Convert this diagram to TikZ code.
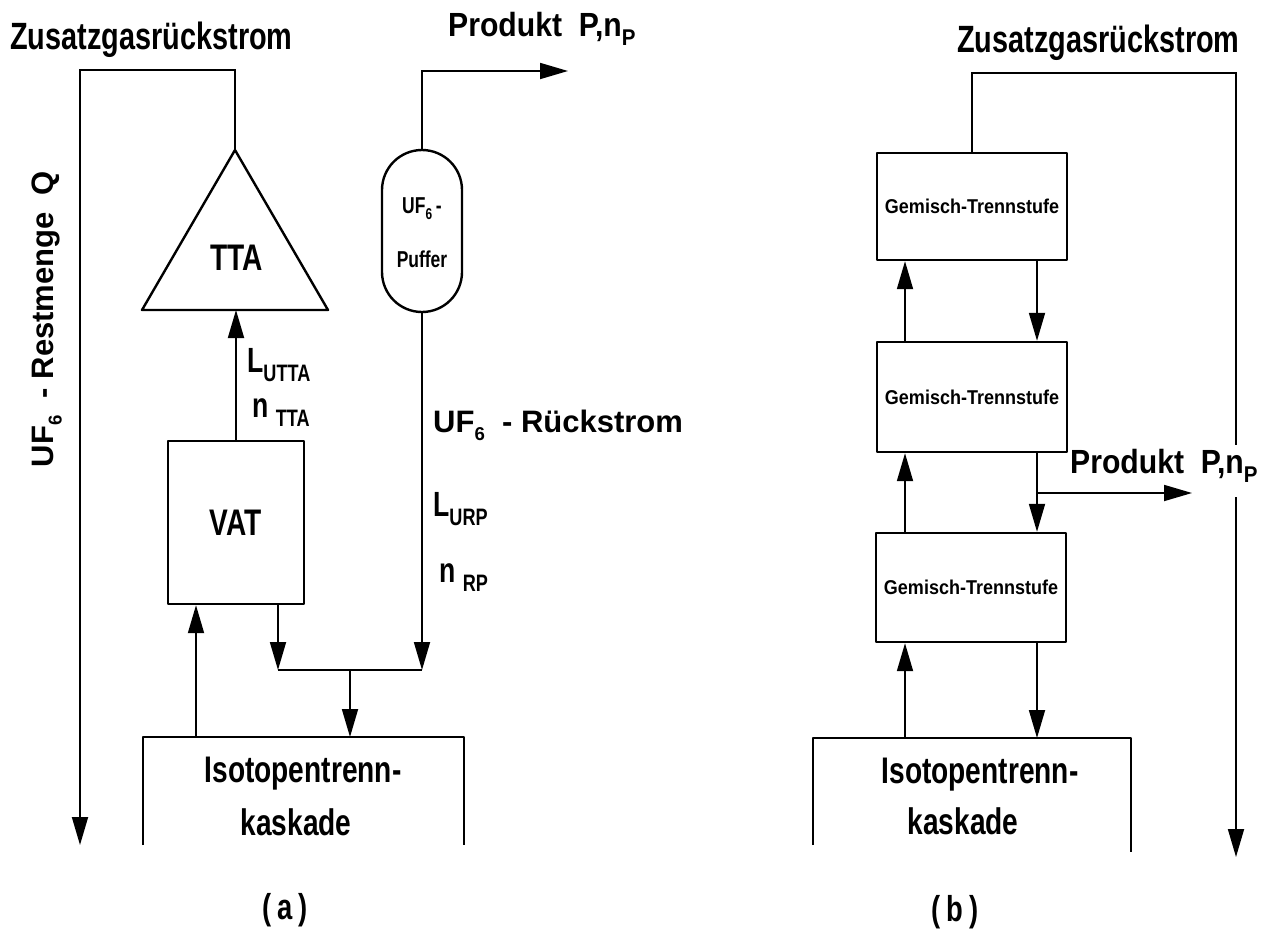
\documentclass[tikz,border=0pt]{standalone}
\usepackage{fontspec}
\setmainfont{Liberation Sans}
\newfontfamily\cfa{Liberation Sans}[FakeStretch=0.76]
\newfontfamily\cfb{Liberation Sans}[FakeStretch=0.9]
\newfontfamily\nfn{Liberation Sans}
\usetikzlibrary{arrows.meta}
\makeatletter
\newcommand{\mysub}[2][0.68]{\raisebox{-0.28em}{\fontsize{\fpeval{#1*\f@size}}{0}\selectfont #2}}
\makeatother
\newcommand{\fz}[1]{\fontsize{#1}{#1}\selectfont\bfseries}
\begin{document}
\begin{tikzpicture}[x=1pt,y=-1pt,
  conn/.style={line width=1.8pt,line join=miter},
  arr/.style={line width=1.8pt,-{Triangle[length=28pt,width=16pt]}},
  box/.style={draw,line width=2.4pt,inner sep=0pt,line join=round},
  tw/.style={inner sep=0pt,anchor=base west},
  tb/.style={inner sep=0pt,anchor=base},
]
\useasboundingbox (0,0) rectangle (1262,932);

%%%%%%%%%%%% (a) %%%%%%%%%%%%
\node[tw,font=\cfa\fz{38}] (headA) at (10,49) {Zusatzgasrückstrom};
\node[tw,font=\cfb\fz{33.5}] (prodA) at (448,36) {Produkt\ \ P,n\mysub{P}};

% triangle TTA
\coordinate (ttaTop) at (235,150);
\coordinate (ttaL) at (142,310);
\coordinate (ttaR) at (328,310);
\draw[box] (ttaTop) -- (ttaL) -- (ttaR) -- cycle;
\node[tb,font=\cfa\fz{37}] (tta) at (237,270) {TTA};

% VAT
\node[box,minimum width=136pt,minimum height=163pt,font=\cfa\fz{37}] (vat) at (236,522.5) {VAT};

% buffer
\node[box,rounded corners=40pt,minimum width=80pt,minimum height=162pt] (puf) at (422,231) {};
\node[tb,font=\cfa\fz{23}] (pufA) at (422,213) {UF\mysub{6}\,-};
\node[tb,font=\cfa\fz{23}] (pufB) at (422,267) {Puffer};

% cascade box (open at the bottom)
\coordinate (kA1) at (143,845);
\coordinate (kA2) at (143,737);
\coordinate (kA3) at (464,737);
\coordinate (kA4) at (464,845);
\draw[box] (kA1) -- (kA2) -- (kA3) -- (kA4);
\node[tb,font=\cfa\fz{37}] (isoA1) at (303,782) {Isotopentrenn-};
\node[tb,font=\cfa\fz{37}] (isoA2) at (296,835) {kaskade};
\node[inner sep=0pt,font=\cfa\fz{36}] (capA) at (285,910) {(\,a\,)};

% connectors (a)
\coordinate (qTop) at (80,70);
\coordinate (qEnd) at (80,845);
\draw[arr] (ttaTop) |- (qTop) -- (qEnd);
\draw[arr] (vat.north) -- (vat.north |- ttaL);
\coordinate (vatIn) at ([xshift=-40pt]vat.south);
\coordinate (vatOut) at ([xshift=42pt]vat.south);
\draw[arr] (vatIn |- kA2) -- (vatIn);
\coordinate (jR) at (423,670);
\coordinate (jM) at (350,670);
\coordinate (jL) at (vatOut |- jR);
\draw[arr] (vatOut) -- (jL);
\draw[arr] (puf.south) -- (puf.south |- jR);
\draw[conn] (jL) -- (puf.south |- jR);
\draw[arr] (jM) -- (jM |- kA2);
\coordinate (pA) at (568,71);
\draw[arr] (puf.north) |- (pA);

% labels (a)
\node[rotate=90,tb,font=\nfn\fz{31}] (rest) at (53,319) {UF\mysub[0.6]{6}\ \ -\ Restmenge\ \ Q};
\node[tw,font=\cfa\fz{35}] (lutta) at (247,372) {L\mysub{UTTA}};
\node[tw,font=\cfa\fz{35}] (ntta) at (252,417) {n \mysub{TTA}};
\node[tw,font=\nfn\fz{31}] (ufr) at (433,432) {UF\mysub[0.6]{6}\ \ -\ Rückstrom};
\node[tw,font=\cfa\fz{35}] (lurp) at (433,516) {L\mysub{URP}};
\node[tw,font=\cfa\fz{35}] (nrp) at (439,582) {n \mysub{RP}};

%%%%%%%%%%%% (b) %%%%%%%%%%%%
\node[tw,font=\cfa\fz{38}] (headB) at (957,52) {Zusatzgasrückstrom};
\node[box,minimum width=190pt,minimum height=107pt,font=\cfb\fz{20}] (g1) at (972,206.5) {Gemisch-Trennstufe};
\node[box,minimum width=190pt,minimum height=110pt,font=\cfb\fz{20}] (g2) at (972,397) {Gemisch-Trennstufe};
\node[box,minimum width=190pt,minimum height=109pt,font=\cfb\fz{20}] (g3) at (971,587.5) {Gemisch-Trennstufe};

\coordinate (kB1) at (813,845);
\coordinate (kB2) at (813,738);
\coordinate (kB3) at (1131,738);
\coordinate (kB4) at (1131,852);
\draw[box] (kB1) -- (kB2) -- (kB3) -- (kB4);
\node[tb,font=\cfa\fz{37}] (isoB1) at (980,783) {Isotopentrenn-};
\node[tb,font=\cfa\fz{37}] (isoB2) at (963,834) {kaskade};
\node[inner sep=0pt,font=\cfa\fz{36}] (capB) at (955,912) {(\,b\,)};

\coordinate (upx) at (905,0);
\coordinate (dnx) at (1037,0);
\draw[arr] (upx |- g2.north) -- (upx |- g1.south);
\draw[arr] (dnx |- g1.south) -- (dnx |- g2.north);
\draw[arr] (upx |- g3.north) -- (upx |- g2.south);
\draw[arr] (dnx |- g2.south) -- (dnx |- g3.north);
\draw[arr] (upx |- kB2) -- (upx |- g3.south);
\draw[arr] (dnx |- g3.south) -- (dnx |- kB2);
\coordinate (pB) at (1192,493);
\draw[arr] (dnx |- pB) -- (pB);
\node[tw,font=\cfb\fz{33.5}] (prodB) at (1070,473) {Produkt\ \ P,n\mysub{P}};

\coordinate (rTop) at (1236,73);
\coordinate (rBrk) at (1236,445);
\coordinate (rRes) at (1236,497);
\coordinate (rEnd) at (1236,857);
\draw[conn] (g1.north) |- (rTop) -- (rBrk);
\draw[arr] (rRes) -- (rEnd);
\end{tikzpicture}
\end{document}
